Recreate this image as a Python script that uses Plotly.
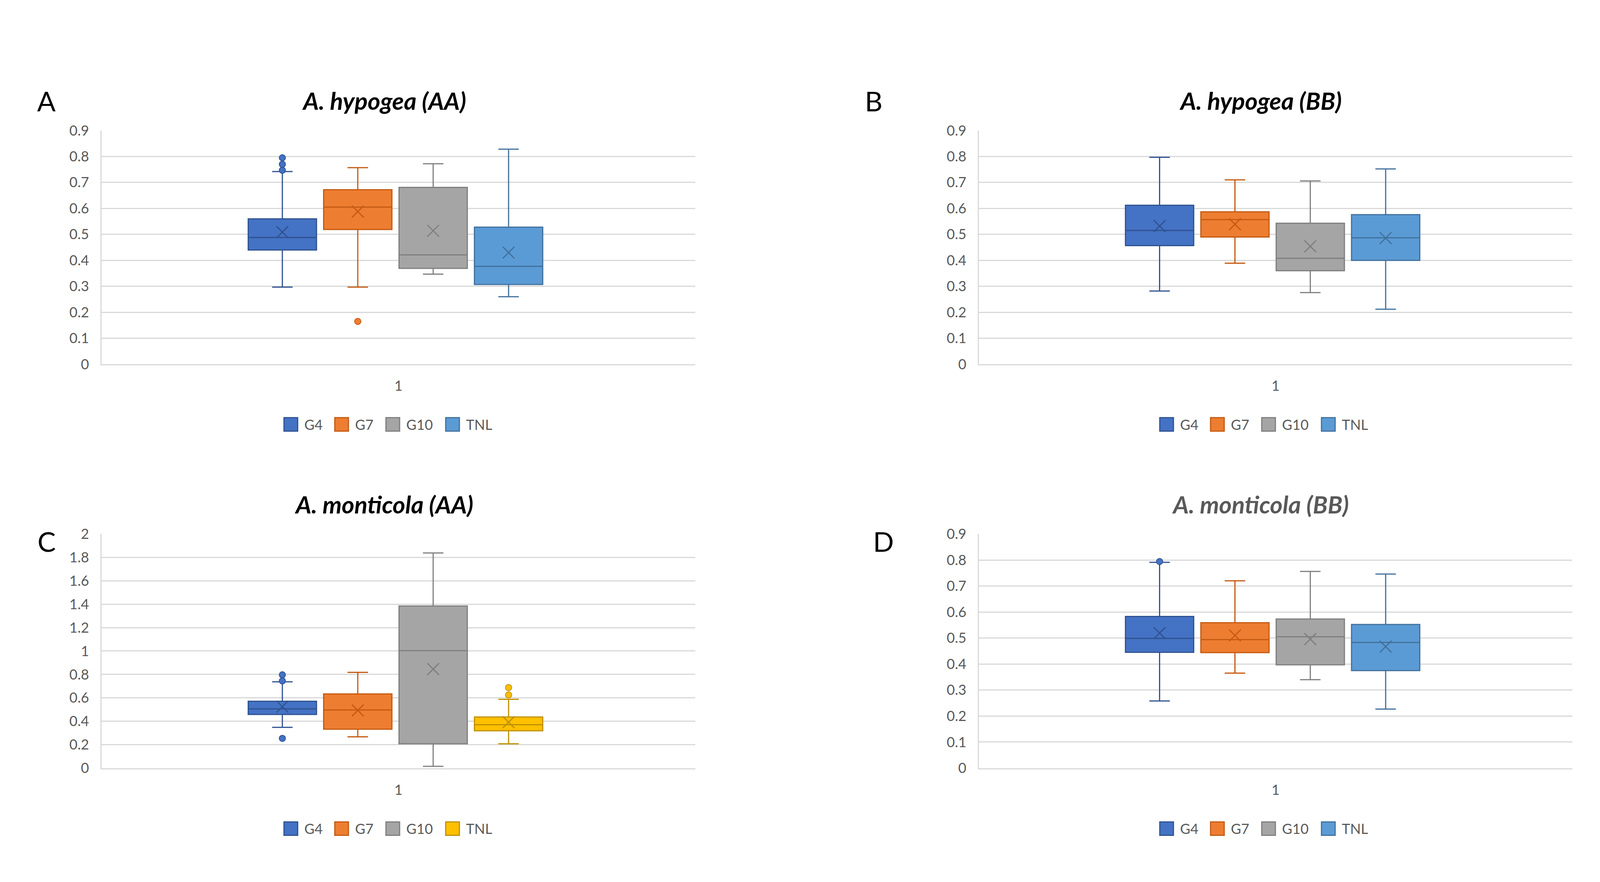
import plotly.graph_objects as go

# grupos y colores (estilo Excel)
groups = ["G4", "G7", "G10", "TNL"]
fill_colors = ["#4472C4", "#ED7D31", "#A5A5A5", "#5B9BD5"]
line_colors = ["#2F528F", "#C55A11", "#7F7F7F", "#41719C"]
fill_colors_c = ["#4472C4", "#ED7D31", "#A5A5A5", "#FFC000"]
line_colors_c = ["#2F528F", "#C55A11", "#7F7F7F", "#BF9000"]

# Panel A - A. hypogea (AA)
a_lo = [0.297, 0.297, 0.347, 0.260]
a_q1 = [0.440, 0.519, 0.369, 0.307]
a_med = [0.488, 0.605, 0.421, 0.377]
a_q3 = [0.560, 0.672, 0.681, 0.528]
a_hi = [0.742, 0.757, 0.772, 0.828]
a_mean = [0.509, 0.588, 0.514, 0.430]
a_out = [[0.795, 0.770, 0.747], [0.165], [], []]

# Panel B - A. hypogea (BB)
b_lo = [0.282, 0.389, 0.276, 0.212]
b_q1 = [0.457, 0.490, 0.360, 0.400]
b_med = [0.515, 0.557, 0.408, 0.487]
b_q3 = [0.612, 0.587, 0.543, 0.576]
b_hi = [0.797, 0.710, 0.706, 0.752]
b_mean = [0.532, 0.539, 0.454, 0.486]
b_out = [[], [], [], []]

# Panel C - A. monticola (AA)
c_lo = [0.348, 0.267, 0.015, 0.208]
c_q1 = [0.458, 0.332, 0.208, 0.319]
c_med = [0.506, 0.497, 1.003, 0.371]
c_q3 = [0.571, 0.634, 1.385, 0.437]
c_hi = [0.737, 0.818, 1.838, 0.588]
c_mean = [0.525, 0.493, 0.846, 0.392]
c_out = [[0.797, 0.745, 0.254], [], [], [0.688, 0.625]]

# Panel D - A. monticola (BB)
d_lo = [0.258, 0.365, 0.340, 0.227]
d_q1 = [0.445, 0.444, 0.397, 0.375]
d_med = [0.499, 0.494, 0.505, 0.483]
d_q3 = [0.583, 0.559, 0.573, 0.552]
d_hi = [0.791, 0.720, 0.756, 0.746]
d_mean = [0.519, 0.510, 0.496, 0.467]
d_out = [[0.794], [], [], []]

W, H = 4218, 2257
fnt = "Lato"
gris = "#595959"
grid = "#D9D9D9"

# posicion de cada caja alrededor de la categoria "1"
pos = [0.995 + (i - 1.5) * 0.127 for i in range(4)]
box_w = 0.115

# leyenda hecha a mano (cuadros grandes como en Excel), en pixeles
leg_offsets = [0, 130, 261, 414]
leg_sq = 35

panels = [
    dict(lo=a_lo, q1=a_q1, med=a_med, q3=a_q3, hi=a_hi, mean=a_mean, out=a_out,
         fc=fill_colors, lc=line_colors, ax="",
         xd=[252, 1772], yd=[919, 309], yr=[0, 0.9], dt=0.1,
         title="A. hypogea (AA)", tx=975, ty=230, tcol="black",
         letter="A", lx=111, ly=232, legx=719, legy=1076),
    dict(lo=b_lo, q1=b_q1, med=b_med, q3=b_q3, hi=b_hi, mean=b_mean, out=b_out,
         fc=fill_colors, lc=line_colors, ax="2",
         xd=[2498, 4017], yd=[919, 309], yr=[0, 0.9], dt=0.1,
         title="A. hypogea (BB)", tx=3219, ty=230, tcol="black",
         letter="B", lx=2228, ly=232, legx=2961, legy=1076),
    dict(lo=c_lo, q1=c_q1, med=c_med, q3=c_q3, hi=c_hi, mean=c_mean, out=c_out,
         fc=fill_colors_c, lc=line_colors_c, ax="3",
         xd=[252, 1772], yd=[1973, 1362], yr=[0, 2], dt=0.2,
         title="A. monticola (AA)", tx=975, ty=1284, tcol="black",
         letter="C", lx=111, ly=1381, legx=719, legy=2131),
    dict(lo=d_lo, q1=d_q1, med=d_med, q3=d_q3, hi=d_hi, mean=d_mean, out=d_out,
         fc=fill_colors, lc=line_colors, ax="4",
         xd=[2498, 4017], yd=[1973, 1362], yr=[0, 0.9], dt=0.1,
         title="A. monticola (BB)", tx=3218, ty=1284, tcol=gris,
         letter="D", lx=2253, ly=1381, legx=2961, legy=2131),
]

fig = go.Figure()
annotations = []
shapes = []
layout = {}

for p in panels:
    xa = "x" + p["ax"]
    ya = "y" + p["ax"]
    for i, g in enumerate(groups):
        fig.add_trace(go.Box(
            x=[pos[i]], q1=[p["q1"][i]], median=[p["med"][i]], q3=[p["q3"][i]],
            lowerfence=[p["lo"][i]], upperfence=[p["hi"][i]],
            width=box_w, whiskerwidth=0.3,
            fillcolor=p["fc"][i], line=dict(color=p["lc"][i], width=3),
            name=g, showlegend=False, xaxis=xa, yaxis=ya))
        # media (x)
        fig.add_trace(go.Scatter(
            x=[pos[i]], y=[p["mean"][i]], mode="markers",
            marker=dict(symbol="x-thin-open", size=30, color=p["lc"][i],
                        line=dict(color=p["lc"][i], width=3)),
            showlegend=False, hoverinfo="y", xaxis=xa, yaxis=ya))
        # valores atipicos
        if p["out"][i]:
            fig.add_trace(go.Scatter(
                x=[pos[i]] * len(p["out"][i]), y=p["out"][i], mode="markers",
                marker=dict(symbol="circle", size=16, color=p["fc"][i],
                            line=dict(color=p["lc"][i], width=2)),
                showlegend=False, hoverinfo="y", xaxis=xa, yaxis=ya))

        # leyenda
        x0 = p["legx"] + leg_offsets[i]
        shapes.append(dict(
            type="rect", xref="paper", yref="paper",
            x0=x0 / W, x1=(x0 + leg_sq) / W,
            y0=1 - (p["legy"] + leg_sq / 2) / H, y1=1 - (p["legy"] - leg_sq / 2) / H,
            fillcolor=p["fc"][i], line=dict(color=p["lc"][i], width=3)))
        annotations.append(dict(
            text=g, x=(x0 + leg_sq + 15) / W, y=1 - p["legy"] / H,
            xref="paper", yref="paper", showarrow=False,
            xanchor="left", yanchor="middle",
            font=dict(size=36, color=gris, family=fnt)))

    key = p["ax"]
    layout["xaxis" + key] = dict(
        domain=[p["xd"][0] / W, p["xd"][1] / W], anchor=ya, range=[0.5, 1.5],
        tickvals=[1], ticktext=["1"],
        showgrid=False, zeroline=False, showline=True, linecolor=grid, linewidth=3,
        ticks="", ticklabelstandoff=22, tickfont=dict(size=36, color=gris, family=fnt))
    layout["yaxis" + key] = dict(
        domain=[1 - p["yd"][0] / H, 1 - p["yd"][1] / H], anchor=xa,
        range=p["yr"], dtick=p["dt"],
        showgrid=True, gridcolor=grid, gridwidth=3, zeroline=False,
        showline=True, linecolor=grid, linewidth=3, ticks="", ticklabelstandoff=22,
        tickfont=dict(size=36, color=gris, family=fnt))

    annotations.append(dict(
        text="<b><i>" + p["title"] + "</i></b>", x=p["tx"] / W, y=1 - p["ty"] / H,
        xref="paper", yref="paper", showarrow=False, xanchor="center", yanchor="middle",
        font=dict(size=62, color=p["tcol"], family=fnt)))
    annotations.append(dict(
        text=p["letter"], x=p["lx"] / W, y=1 - p["ly"] / H, xref="paper", yref="paper",
        showarrow=False, xanchor="center", yanchor="middle",
        font=dict(size=70, color="black", family=fnt)))

fig.update_layout(**layout)
fig.update_layout(
    width=W, height=H, autosize=False,
    margin=dict(l=0, r=0, t=0, b=0),
    paper_bgcolor="white", plot_bgcolor="white",
    font=dict(family=fnt, color=gris),
    annotations=annotations, shapes=shapes, showlegend=False)

fig.write_html("out.html")
